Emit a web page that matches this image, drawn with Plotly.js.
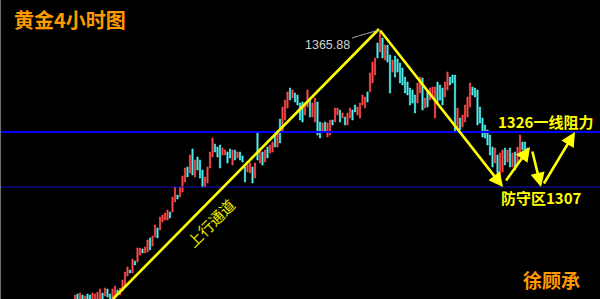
<!DOCTYPE html>
<html><head><meta charset="utf-8">
<script src="https://cdn.plot.ly/plotly-3.0.1.min.js"></script>
<style>html,body{margin:0;padding:0;background:#000;}#chart{width:600px;height:299px;}</style>
</head><body><div id="chart"></div>
<script>
// Gold 4-hour candles, index = bar number
const high = [1260.8,1261.2,1261.6,1260.8,1260.4,1261.2,1260.8,1261.6,1261.2,1262.0,
1263.2,1261.6,1263.6,1263.2,1261.2,1263.2,1264.4,1262.8,1263.6,1266.8,
1270.0,1272.0,1270.8,1275.2,1274.4,1279.6,1279.6,1279.2,1280.0,1282.8,
1283.6,1284.4,1288.8,1287.6,1292.0,1292.8,1293.6,1294.8,1294.0,1300.0,
1304.0,1300.8,1304.0,1308.4,1311.6,1312.0,1316.8,1319.2,1314.8,1316.0,
1314.8,1310.8,1308.0,1312.0,1318.0,1323.6,1321.2,1320.0,1320.8,1319.6,
1318.8,1318.0,1319.2,1318.8,1318.8,1318.0,1318.0,1316.4,1312.0,1312.8,
1313.6,1312.0,1313.6,1325.6,1318.8,1318.0,1318.8,1320.0,1320.8,1322.0,
1324.8,1325.6,1331.2,1336.0,1338.8,1342.0,1343.6,1342.8,1341.6,1340.8,
1337.6,1338.0,1337.6,1342.8,1338.8,1337.6,1339.6,1338.0,1330.0,1329.6,
1330.0,1329.6,1330.8,1330.8,1335.6,1335.6,1334.8,1333.6,1332.0,1333.6,
1335.6,1334.8,1336.8,1336.0,1337.6,1340.8,1340.0,1342.0,1349.6,1354.0,
1355.6,1361.6,1365.88,1363.6,1360.8,1360.8,1356.8,1354.8,1356.4,1355.2,
1353.6,1351.6,1348.0,1346.0,1343.6,1342.8,1340.8,1345.6,1348.0,1347.6,
1339.6,1342.8,1343.6,1344.0,1344.0,1346.0,1344.8,1343.6,1346.0,1350.0,
1348.0,1348.8,1348.8,1335.6,1331.6,1332.8,1336.8,1340.0,1345.6,1344.0,
1343.6,1342.8,1336.0,1331.6,1328.8,1326.8,1324.8,1320.0,1319.6,1316.8,
1317.6,1318.8,1319.6,1318.8,1319.6,1317.6,1318.0,1320.0,1324.8,1322.0,
1322.0,1319.6];
const low = [1258.8,1258.8,1259.2,1258.8,1258.8,1258.8,1258.8,1259.2,1258.8,1259.2,
1259.2,1259.2,1260.4,1260.0,1258.8,1259.2,1260.0,1260.8,1260.8,1262.4,
1264.0,1268.4,1269.6,1269.6,1272.8,1274.0,1276.8,1277.6,1277.6,1278.0,
1278.8,1280.4,1284.0,1283.6,1286.8,1290.0,1290.8,1290.8,1291.6,1294.0,
1298.0,1299.2,1300.0,1302.0,1306.0,1308.0,1309.6,1308.8,1308.0,1310.8,
1307.6,1304.0,1304.0,1305.6,1311.6,1316.0,1318.0,1316.0,1311.6,1316.8,
1316.8,1313.6,1315.6,1312.8,1314.8,1315.6,1314.8,1314.0,1306.0,1310.0,
1309.6,1305.6,1307.6,1314.8,1313.6,1312.8,1314.0,1315.6,1317.6,1318.0,
1320.0,1320.0,1321.6,1326.0,1330.8,1335.6,1338.8,1339.6,1338.0,1336.8,
1330.8,1330.0,1332.8,1336.0,1332.0,1332.0,1330.0,1324.8,1323.6,1325.6,
1326.0,1324.0,1324.8,1328.8,1330.0,1332.8,1330.0,1331.6,1328.8,1328.8,
1331.6,1330.8,1334.0,1332.8,1331.6,1336.8,1335.6,1338.0,1342.0,1345.6,
1348.8,1355.6,1358.0,1355.6,1354.8,1354.0,1341.6,1350.0,1348.0,1350.0,
1345.6,1344.8,1341.6,1340.8,1336.8,1337.6,1333.6,1337.6,1341.6,1334.8,
1335.6,1336.0,1338.8,1339.6,1331.6,1338.0,1338.8,1336.8,1340.0,1342.8,
1344.8,1345.6,1326.0,1326.8,1326.8,1328.0,1330.0,1332.0,1336.0,1340.8,
1340.0,1328.8,1329.6,1324.0,1323.6,1320.8,1316.8,1312.0,1313.6,1309.6,
1308.0,1310.0,1312.8,1314.0,1312.0,1312.0,1310.8,1312.8,1316.8,1318.8,
1316.8,1316.8];
// R = rising (red), C = falling (cyan)
const direction = "RCRCRCCRRR" + "RCRCCRRCRR" + "RRCRCRRCRR" + "CRRCRRRRCR" + "RCRRRCRCRC" +
  "CCRRRRCCCR" + "RCCRCRCCCR" + "RCRCRCRCRR" + "CRCRRRCRCC" + "CCRRCRRCCR" +
  "CRRCRRCRCR" + "RCCRRRRCRR" + "RCRCRCCRCC" + "CCCCCCCRRC" + "RCRRRCCCRR" +
  "CCCRCRRRRC" + "CCCCCCCCRC" + "RRCRCRCRRC" + "CC";

const bars = high.map((_, i) => i);
const open = high.map((h, i) => direction[i] === 'R' ? low[i] : h);
const close = high.map((h, i) => direction[i] === 'R' ? h : low[i]);

const resistance = 1326;   // 1326 一线阻力
const support = 1304;      // 防守区 line
const peakLabel = "1365.88";
const peakIdx = 122;

const Y = '#ffff00', O = '#ff9900';
const cjk = '"Noto Sans CJK SC", sans-serif';

function arrow(tx, ty, ax, ay) {
  return {x: tx, y: ty, ax: ax, ay: ay, xref: 'x', yref: 'y', axref: 'x', ayref: 'y',
    showarrow: true, arrowhead: 2, arrowsize: 1.1, arrowwidth: 2.6, arrowcolor: Y, text: ''};
}

const trace = {
  type: 'candlestick', x: bars, open: open, high: high, low: low, close: close,
  increasing: {line: {color: '#ff4a4a', width: 0.7}, fillcolor: '#ff4a4a'},
  decreasing: {line: {color: '#4ef0f0', width: 0.7}, fillcolor: '#4ef0f0'},
  whiskerwidth: 0, hoverinfo: 'skip'
};

const layout = {
  width: 600, height: 299, margin: {l: 0, r: 0, t: 0, b: 0},
  paper_bgcolor: '#000', plot_bgcolor: '#000', showlegend: false,
  xaxis: {range: [-30, 210], visible: false, rangeslider: {visible: false}, fixedrange: true},
  yaxis: {range: [1259.2, 1378.8], visible: false, fixedrange: true},
  shapes: [
    {type: 'line', xref: 'paper', yref: 'y', x0: 0, x1: 1, y0: resistance, y1: resistance, line: {color: '#0000ff', width: 2}},
    {type: 'line', xref: 'paper', yref: 'y', x0: 0, x1: 1, y0: support, y1: support, line: {color: '#1010d0', width: 1.2}},
    {type: 'line', xref: 'paper', yref: 'paper', x0: 0.001, x1: 0.001, y0: 0, y1: 1, line: {color: '#777', width: 1}},
    // rising channel line
    {type: 'line', xref: 'x', yref: 'y', x0: 15.2, y0: 1259.2, x1: 121.6, y1: 1367.2, line: {color: Y, width: 2.6}},
    // leader line to peak label
    {type: 'path', xref: 'x', yref: 'y', path: 'M 110.8 1363.6 Q 117 1365.6 121.2 1366.6', line: {color: '#aaaaaa', width: 1}}
  ],
  annotations: [
    arrow(171.2, 1304.0, 121.6, 1367.2),
    arrow(182.0, 1320.0, 172.0, 1306.0),
    arrow(186.4, 1304.0, 182.8, 1318.8),
    arrow(200.0, 1326.0, 187.2, 1304.8),
    {x: peakIdx - 11.4, y: 1361.0, xref: 'x', yref: 'y', xanchor: 'right', yanchor: 'middle', showarrow: false,
      text: peakLabel, font: {family: 'Liberation Sans, Arial', size: 12.5, color: '#d4d4d4'}},
    {x: 12/600, y: 1 - 20/299, xref: 'paper', yref: 'paper', xanchor: 'left', yanchor: 'middle', showarrow: false,
      text: '<b>黄金4小时图</b>', font: {family: cjk, size: 20, color: O}},
    {x: 551/600, y: 1 - 279/299, xref: 'paper', yref: 'paper', xanchor: 'center', yanchor: 'middle', showarrow: false,
      text: '<b>徐顾承</b>', font: {family: cjk, size: 19, color: O}},
    {x: 545/600, y: 1 - 122/299, xref: 'paper', yref: 'paper', xanchor: 'center', yanchor: 'middle', showarrow: false,
      text: '<b>1326一线阻力</b>', font: {family: cjk, size: 15, color: Y}},
    {x: 541/600, y: 1 - 197/299, xref: 'paper', yref: 'paper', xanchor: 'center', yanchor: 'middle', showarrow: false,
      text: '<b>防守区1307</b>', font: {family: cjk, size: 15, color: Y}},
    {x: 211/600, y: 1 - 223/299, xref: 'paper', yref: 'paper', xanchor: 'center', yanchor: 'middle', showarrow: false,
      text: '上行通道', textangle: -45, font: {family: cjk, size: 15, color: '#eeee00'}}
  ]
};

Plotly.newPlot('chart', [trace], layout, {displayModeBar: false, staticPlot: true});
</script>
</body></html>
